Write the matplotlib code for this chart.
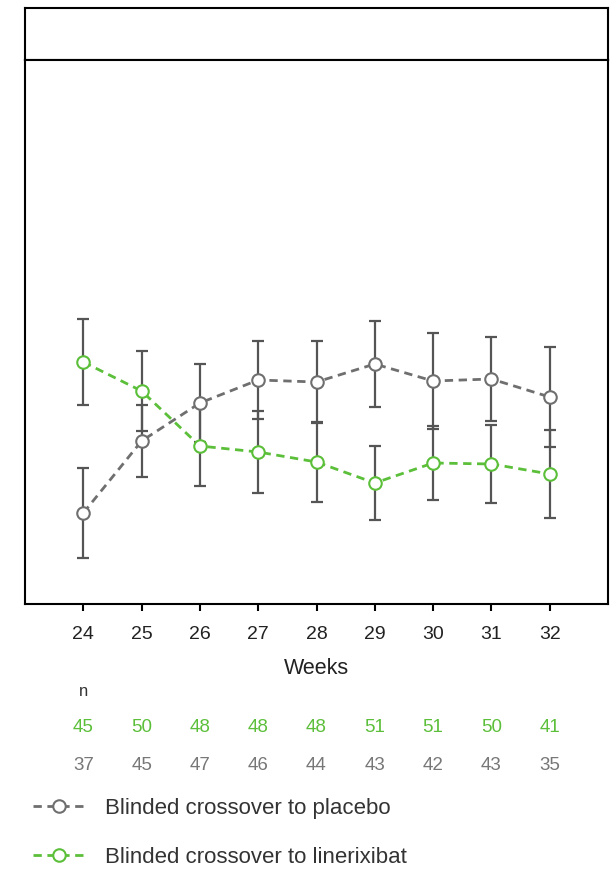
import numpy as np
import matplotlib.pyplot as plt
import matplotlib.transforms as mtransforms

plt.rcParams['font.family'] = ['Liberation Sans', 'DejaVu Sans']

# Dados (unidades arbitrárias, sem eixo y na figura original)
semanas = [24, 25, 26, 27, 28, 29, 30, 31, 32]
placebo_media = [0.91, 1.63, 2.01, 2.24, 2.22, 2.40, 2.23, 2.25, 2.07]
placebo_ep = [0.45, 0.36, 0.39, 0.39, 0.41, 0.43, 0.48, 0.42, 0.50]
linerixibat_media = [2.42, 2.13, 1.58, 1.52, 1.42, 1.21, 1.41, 1.40, 1.30]
linerixibat_ep = [0.43, 0.40, 0.40, 0.41, 0.40, 0.37, 0.37, 0.39, 0.44]
n_linerixibat = [45, 50, 48, 48, 48, 51, 51, 50, 41]
n_placebo = [37, 45, 47, 46, 44, 43, 42, 43, 35]

cor_cinza = '#6f6f6f'
cor_verde = '#5cbf3a'
cor_erro = '#555555'

W, H = 616, 869
fig = plt.figure(figsize=(W / 100, H / 100), dpi=100)

# Faixa de cabeçalho vazia
ax_topo = fig.add_axes([25 / W, 1 - 60 / H, 583 / W, 52 / H])
ax_topo.set_xticks([])
ax_topo.set_yticks([])
for s in ax_topo.spines.values():
    s.set_linewidth(1.5)

# Painel principal
ax = fig.add_axes([25 / W, 1 - 604 / H, 583 / W, 544 / H])
ax.set_xlim(23, 33)
ax.set_ylim(0, 5.44)
for s in ax.spines.values():
    s.set_linewidth(1.5)

ax.errorbar(semanas, placebo_media, yerr=placebo_ep, fmt='none',
            ecolor=cor_erro, elinewidth=1.6, capsize=4.5, capthick=1.6, zorder=2)
ax.errorbar(semanas, linerixibat_media, yerr=linerixibat_ep, fmt='none',
            ecolor=cor_erro, elinewidth=1.6, capsize=4.5, capthick=1.6, zorder=2)

l1, = ax.plot(semanas, placebo_media, linestyle=(0, (3, 2)), color=cor_cinza,
              linewidth=2, marker='o', markersize=9, markerfacecolor='white',
              markeredgecolor=cor_cinza, markeredgewidth=1.5, zorder=3,
              label='Blinded crossover to placebo')
l2, = ax.plot(semanas, linerixibat_media, linestyle=(0, (3, 2)), color=cor_verde,
              linewidth=2, marker='o', markersize=9, markerfacecolor='white',
              markeredgecolor=cor_verde, markeredgewidth=1.5, zorder=4,
              label='Blinded crossover to linerixibat')

ax.set_yticks([])
ax.set_xticks(semanas)
ax.set_xticklabels([str(s) for s in semanas], fontsize=14, color='#222222')
ax.tick_params(axis='x', direction='out', length=5, width=1.5, pad=11)
ax.set_xlabel('Weeks', fontsize=15.5, color='#222222', labelpad=11)

# Tabela de n abaixo do eixo
trans = mtransforms.blended_transform_factory(ax.transData, fig.transFigure)
ax.text(24, 1 - 692 / H, 'n', transform=trans, ha='center', va='center',
        fontsize=12, color='#333333')
for x, a, b in zip(semanas, n_linerixibat, n_placebo):
    ax.text(x, 1 - 727 / H, str(a), transform=trans, ha='center', va='center',
            fontsize=13.5, color=cor_verde)
    ax.text(x, 1 - 765 / H, str(b), transform=trans, ha='center', va='center',
            fontsize=13.5, color='#777777')

fig.legend(handles=[l1, l2], loc='upper left',
           bbox_to_anchor=(13 / W, 1 - 778 / H), frameon=False,
           fontsize=16, handlelength=2.35, handletextpad=0.9,
           labelspacing=1.27, labelcolor='#333333')

plt.savefig('out.png', format='png')
plt.close(fig)
